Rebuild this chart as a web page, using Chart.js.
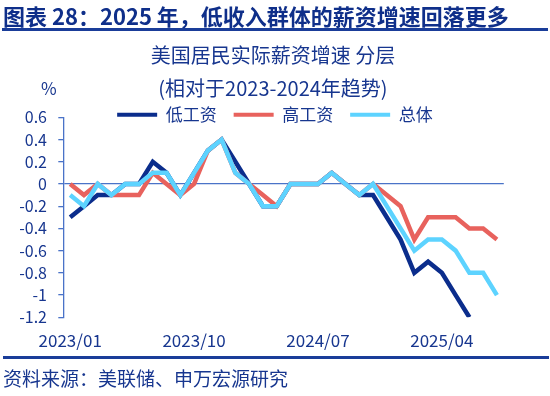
<!DOCTYPE html>
<html>
<head>
  <meta charset="utf-8">
  <title>美国居民实际薪资增速 分层</title>
  <style>
    body {
      margin: 0;
      background: #fff;
      font-family: "Noto Sans CJK SC", "Noto Sans", sans-serif;
      color: #17368f;
    }
    #wrap { position: relative; width: 550px; height: 396px; overflow: hidden; }
    #wrap canvas { position: absolute; left: 0; top: 0; }
    .abs { position: absolute; white-space: nowrap; line-height: 1; }
    #head { left: 3px; top: 4px; font-size: 22px; font-weight: bold; color: #0f2f8a; }
    #rule1 { left: 2px; top: 28px; width: 546px; height: 3px; background: #1a3d99; }
    #rule2 { left: 3px; top: 356px; width: 546px; height: 3px; background: #1a3d99; }
    #t1, #t2 { left: 0; width: 546px; text-align: center; font-size: 20px; }
    #t1 { top: 45px; }
    #t2 { top: 78px; }
    #unit { left: 41px; top: 79px; font-size: 17px; }
    #src { left: 3px; top: 368px; font-size: 19px; }
  </style>
</head>
<body>
  <div id="wrap">
    <canvas id="myChart" width="550" height="396"></canvas>
    <div class="abs" id="head">图表 28：2025 年，低收入群体的薪资增速回落更多</div>
    <div class="abs" id="rule1"></div>
    <div class="abs" id="t1">美国居民实际薪资增速 分层</div>
    <div class="abs" id="t2">(相对于2023-2024年趋势)</div>
    <div class="abs" id="unit">%</div>
    <div class="abs" id="rule2"></div>
    <div class="abs" id="src">资料来源：美联储、申万宏源研究</div>
  </div>

  <script src="https://cdn.jsdelivr.net/npm/chart.js@4.4.0/dist/chart.umd.min.js"></script>
  <script>
    // meses 2023/01 .. 2025/08
    var months = [
      '2023/01', '2023/02', '2023/03', '2023/04', '2023/05', '2023/06', '2023/07', '2023/08',
      '2023/09', '2023/10', '2023/11', '2023/12', '2024/01', '2024/02', '2024/03', '2024/04',
      '2024/05', '2024/06', '2024/07', '2024/08', '2024/09', '2024/10', '2024/11', '2024/12',
      '2025/01', '2025/02', '2025/03', '2025/04', '2025/05', '2025/06', '2025/07', '2025/08'
    ];
    var tickLabels = ['2023/01', '2023/10', '2024/07', '2025/04'];

    var lowWage = [-0.3, -0.2, -0.1, -0.1, 0, 0, 0.2, 0.1, -0.1, 0.1, 0.3, 0.4, 0.2, 0, -0.2, -0.2,
                   0, 0, 0, 0.1, 0, -0.1, -0.1, -0.3, -0.5, -0.8, -0.7, -0.8, -1.0, -1.2, null, null];
    var highWage = [0, -0.1, 0, -0.1, -0.1, -0.1, 0.1, 0, -0.1, 0, 0.3, 0.4, 0.1, 0, -0.1, -0.2,
                    0, 0, 0, 0.1, 0, -0.1, 0, -0.1, -0.2, -0.5, -0.3, -0.3, -0.3, -0.4, -0.4, -0.5];
    var overall = [-0.1, -0.2, 0, -0.1, 0, 0, 0.1, 0.1, -0.1, 0.1, 0.3, 0.4, 0.1, 0, -0.2, -0.2,
                   0, 0, 0, 0.1, 0, -0.1, 0, -0.2, -0.4, -0.6, -0.5, -0.5, -0.6, -0.8, -0.8, -1.0];

    var navy = '#17368f';
    var axisBlue = '#4a73c8';
    var legendShift = { x: 23, y: 16 };

    // a legenda fica colada ao topo da área do gráfico
    var legendNudge = {
      id: 'legendNudge',
      afterLayout: function(chart) {
        var lg = chart.legend;
        lg.top += legendShift.y; lg.bottom += legendShift.y;
        lg.left += legendShift.x; lg.right += legendShift.x;
      }
    };

    Chart.defaults.font.family = '"Noto Sans CJK SC", "Noto Sans", sans-serif';
    Chart.defaults.color = navy;

    var ctx = document.getElementById('myChart').getContext('2d');
    var myChart = new Chart(ctx, {
      type: 'line',
      data: {
        labels: months,
        datasets: [
          { label: '低工资', data: lowWage, borderColor: '#0b2d8c', backgroundColor: '#0b2d8c', borderWidth: 4.5, order: 2 },
          { label: '高工资', data: highWage, borderColor: '#e8625d', backgroundColor: '#e8625d', borderWidth: 4.5, order: 1 },
          { label: '总体', data: overall, borderColor: '#5dd3ff', backgroundColor: '#5dd3ff', borderWidth: 4.5, order: 0 }
        ]
      },
      options: {
        responsive: false,
        animation: false,
        layout: { padding: { left: 0, right: 46.2, top: 73.3, bottom: 31.9 } },
        elements: {
          line: { tension: 0 },
          point: { radius: 0 }
        },
        plugins: {
          tooltip: { enabled: false },
          legend: {
            position: 'top',
            labels: {
              boxWidth: 40,
              boxHeight: 4,
              padding: 17,
              color: navy,
              font: { size: 17 },
              sort: function(a, b) { return a.datasetIndex - b.datasetIndex; },
              generateLabels: function(chart) {
                var items = Chart.defaults.plugins.legend.labels.generateLabels(chart);
                items.forEach(function(it) {
                  it.lineWidth = 0;
                  it.fillStyle = it.strokeStyle;
                });
                return items;
              }
            }
          }
        },
        scales: {
          x: {
            offset: true,
            border: { display: false },
            grid: { display: false, drawTicks: false },
            ticks: {
              autoSkip: false,
              maxRotation: 0,
              padding: 13.2,
              color: navy,
              font: { size: 17 },
              callback: function(value, index) {
                var lab = months[index];
                return tickLabels.indexOf(lab) !== -1 ? lab : '';
              }
            }
          },
          y: {
            min: -1.2,
            max: 0.6,
            afterFit: function(scale) { scale.width = 63.3; },
            border: { display: true, color: axisBlue, width: 1.3 },
            grid: {
              drawOnChartArea: true,
              lineWidth: 1.3,
              color: function(c) {
                return c.tick && Math.abs(c.tick.value) < 1e-9 ? axisBlue : 'rgba(0,0,0,0)';
              },
              tickColor: axisBlue,
              tickLength: 5
            },
            ticks: {
              stepSize: 0.2,
              padding: 11.3,
              color: navy,
              font: { size: 16 },
              callback: function(v) { return Number(v.toFixed(1)).toString(); }
            }
          }
        }
      },
      plugins: [legendNudge]
    });
  </script>
</body>
</html>
